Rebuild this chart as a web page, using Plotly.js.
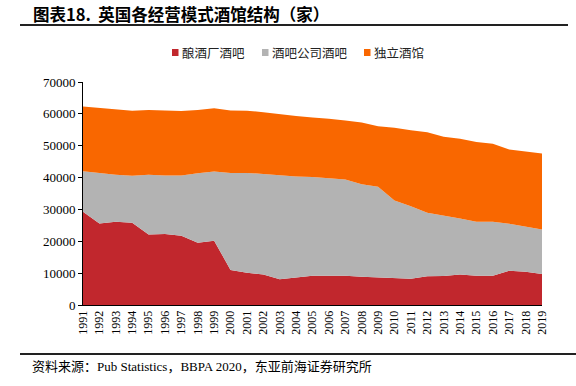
<!DOCTYPE html>
<html>
<head>
<meta charset="utf-8">
<script src="https://cdn.plot.ly/plotly-3.0.1.min.js"></script>
<style>html,body{margin:0;padding:0;background:#fff;}#chart{width:576px;height:386px;}</style>
</head>
<body>
<div id="chart"></div>
<script>
const years = [1991,1992,1993,1994,1995,1996,1997,1998,1999,2000,2001,2002,2003,2004,2005,2006,2007,2008,2009,2010,2011,2012,2013,2014,2015,2016,2017,2018,2019];
const breweryPubs = [29300,25600,26100,25850,22150,22250,21750,19550,20200,11000,10100,9600,8100,8750,9200,9200,9200,8900,8700,8400,8250,9000,9100,9600,9200,9200,10750,10450,9700];
const pubCompanyPubs = [12700,15800,14750,14700,18700,18400,18900,21800,21700,30400,31350,31550,32550,31600,30950,30500,30200,29000,28400,24400,22750,19950,19000,17550,16950,16900,14750,14200,14000];
const independentPubs = [20300,20450,20400,20450,20350,20450,20250,19900,19850,19650,19550,19350,19200,19000,18700,18800,18500,19350,19000,22800,23850,25250,24750,25000,25050,24550,23300,23450,23850];
const seriesNames = ['酿酒厂酒吧','酒吧公司酒吧','独立酒馆'];
const colors = ['#C1272D','#B3B3B3','#F96700'];
const yTicks = [0,10000,20000,30000,40000,50000,60000,70000];

const W = 576, H = 386;
const M = {l:83, r:34, t:82, b:81};
const pw = W - M.l - M.r, ph = H - M.t - M.b;
const px = x => (x - M.l) / pw;
const py = y => (H - M.b - y) / ph;

const cjk = 'Noto Sans CJK SC, Noto Sans, sans-serif';
const serif = 'Liberation Serif, Times New Roman, DejaVu Serif, serif';
const mixed = 'Liberation Serif, Times New Roman, Noto Sans CJK SC, serif';

const traces = [breweryPubs, pubCompanyPubs, independentPubs].map((vals, i) => ({
  x: years, y: vals, name: seriesNames[i], type: 'scatter', mode: 'lines',
  stackgroup: 'one', line: {width: 0, color: colors[i]}, fillcolor: colors[i],
  showlegend: false, hoverinfo: 'x+y+name'
}));

// custom legend: square + label, positioned in pixels
const legendSquareX = [172, 262, 364];
const legendY = 52.5;
const legendShapes = seriesNames.map((n, i) => ({
  type: 'rect', xref: 'paper', yref: 'paper',
  x0: px(legendSquareX[i]), x1: px(legendSquareX[i] + 6.5),
  y0: py(legendY + 3.5), y1: py(legendY - 3.5),
  fillcolor: colors[i], line: {width: 0}
}));
const legendAnns = seriesNames.map((n, i) => ({
  text: n, xref: 'paper', yref: 'paper', x: px(legendSquareX[i] + 7.5), y: py(legendY),
  xanchor: 'left', yanchor: 'middle', showarrow: false,
  font: {family: cjk, size: 12.5, color: '#222'}
}));

const layout = {
  width: W, height: H, margin: M,
  paper_bgcolor: '#fff', plot_bgcolor: '#fff',
  font: {family: serif, color: '#000'},
  showlegend: false,
  xaxis: {range: [1991, 2019], tickmode: 'array', tickvals: years, ticktext: years.map(String),
    tickangle: -90, showline: true, linecolor: '#000', linewidth: 1, ticks: '',
    showgrid: false, zeroline: false, tickfont: {family: serif, size: 12, color: '#000'}},
  yaxis: {range: [0, 70000], tickmode: 'array', tickvals: yTicks, ticktext: yTicks.map(String),
    showline: true, linecolor: '#000', linewidth: 1, ticks: 'outside', ticklen: 4, tickcolor: '#000',
    showgrid: false, zeroline: false, tickfont: {family: serif, size: 13, color: '#000'}},
  annotations: [
    {text: '<b>图表18.  英国各经营模式酒馆结构（家）</b>', xref: 'paper', yref: 'paper',
      x: px(31), y: py(14), xanchor: 'left', yanchor: 'middle', showarrow: false,
      font: {family: cjk, size: 16.5, color: '#000'}},
    {text: '资料来源：Pub Statistics，BBPA 2020，东亚前海证券研究所', xref: 'paper', yref: 'paper',
      x: px(30), y: py(366), xanchor: 'left', yanchor: 'middle', showarrow: false,
      font: {family: mixed, size: 13, color: '#000'}}
  ].concat(legendAnns),
  shapes: [
    {type: 'line', xref: 'paper', yref: 'paper', x0: px(20), x1: px(568), y0: py(25), y1: py(25),
      line: {color: '#222', width: 2}},
    {type: 'line', xref: 'paper', yref: 'paper', x0: px(20), x1: px(576), y0: py(354), y1: py(354),
      line: {color: '#222', width: 2}}
  ].concat(legendShapes)
};

Plotly.newPlot('chart', traces, layout, {displayModeBar: false, staticPlot: true});
</script>
</body>
</html>
